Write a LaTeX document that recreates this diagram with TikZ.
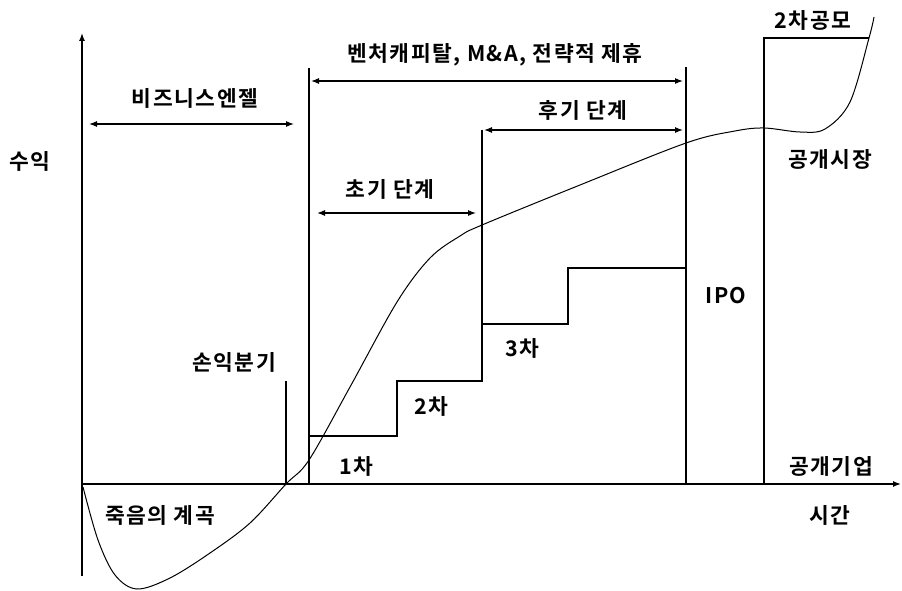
\documentclass[tikz,border=0pt]{standalone}
\usepackage{fontspec}
\setmainfont{Noto Sans CJK KR}[BoldFont={* Bold}]
\usetikzlibrary{arrows.meta}
\begin{document}
\begin{tikzpicture}[x=1pt,y=-1pt,
  ln/.style={line width=1.1pt},
  axis/.style={line width=1.4pt,-{Latex[length=8pt,width=6pt]}},
  dim/.style={line width=1.1pt,{Latex[length=8pt,width=6pt]}-{Latex[length=8pt,width=6pt]}},
  lbl/.style={font=\addfontfeatures{LetterSpace=7}\fontsize{21.5}{24}\selectfont\bfseries, inner sep=0pt}]
\useasboundingbox (0,0) rectangle (902,591);
% axes
\coordinate (O) at (82,484);
\coordinate (ytop) at (82,33);
\coordinate (ybot) at (82,576);
\coordinate (xend) at (901,484);
\draw[axis] (ybot) -- (ytop);
\draw[axis] (O) -- (xend);
% vertical lines
\coordinate (be1) at (286,381); \coordinate (be0) at (286,484);
\draw[ln] (be1) -- (be0);
\coordinate (vc1) at (309,68); \coordinate (vc0) at (309,484);
\draw[ln] (vc1) -- (vc0);
\coordinate (ip1) at (686,67); \coordinate (ip0) at (686,484);
\draw[ln] (ip1) -- (ip0);
\coordinate (pm0) at (764,484); \coordinate (pm1) at (764,38); \coordinate (pm2) at (869,38);
\draw[ln] (pm0) -- (pm1) -- (pm2);
% steps
\coordinate (s1) at (309,436); \coordinate (s2) at (397,436); \coordinate (s3) at (397,381);
\coordinate (s4) at (482,381); \coordinate (s5) at (482,130);
\draw[ln] (s1) -- (s2) -- (s3) -- (s4) -- (s5);
\coordinate (t1) at (482,324); \coordinate (t2) at (568,324); \coordinate (t3) at (568,268); \coordinate (t4) at (686,268);
\draw[ln] (t1) -- (t2) -- (t3) -- (t4);
% dimension arrows
\coordinate (ba0) at (89,124); \coordinate (ba1) at (294,124);
\draw[dim] (ba0) -- (ba1);
\coordinate (va0) at (311,81); \coordinate (va1) at (683,81);
\draw[dim] (va0) -- (va1);
\coordinate (ea0) at (317,213); \coordinate (ea1) at (476,213);
\draw[dim] (ea0) -- (ea1);
\coordinate (la0) at (484,130); \coordinate (la1) at (683,130);
\draw[dim] (la0) -- (la1);
% curve
\draw[line width=1pt] plot[smooth, tension=0.55] coordinates {
 (83,487) (98,540) (115,575) (137,589) (170,578) (210,553) (250,523) (286,484)
 (309,460) (350,387) (397,302) (430,258) (460,236) (482,225) (580,185) (686,143)
 (735,131) (764,128) (800,132) (825,129) (850,102) (869,38) (874,17)};
% labels
\node[lbl] (suik) at (30,161) {수익};
\node[lbl] (bangel) at (195,98) {비즈니스엔젤};
\node[lbl] (vc) at (495,55) {벤처캐피탈, M\&A, 전략적 제휴};
\node[lbl] (early) at (390,189) {초기 단계};
\node[lbl] (late) at (583,110) {후기 단계};
\node[lbl] (second) at (813,20) {2차공모};
\node[lbl] (pubmkt) at (830,159) {공개시장};
\node[lbl] (bep) at (234,362) {손익분기};
\node[lbl] (r2) at (431,406) {2차};
\node[lbl] (r1) at (356,466) {1차};
\node[lbl] (r3) at (522,348) {3차};
\node[lbl] (ipo) at (726,296) {IPO};
\node[lbl] (pubco) at (831,466) {공개기업};
\node[lbl] (time) at (830,515) {시간};
\node[lbl] (death) at (160,515) {죽음의 계곡};
\end{tikzpicture}
\end{document}
